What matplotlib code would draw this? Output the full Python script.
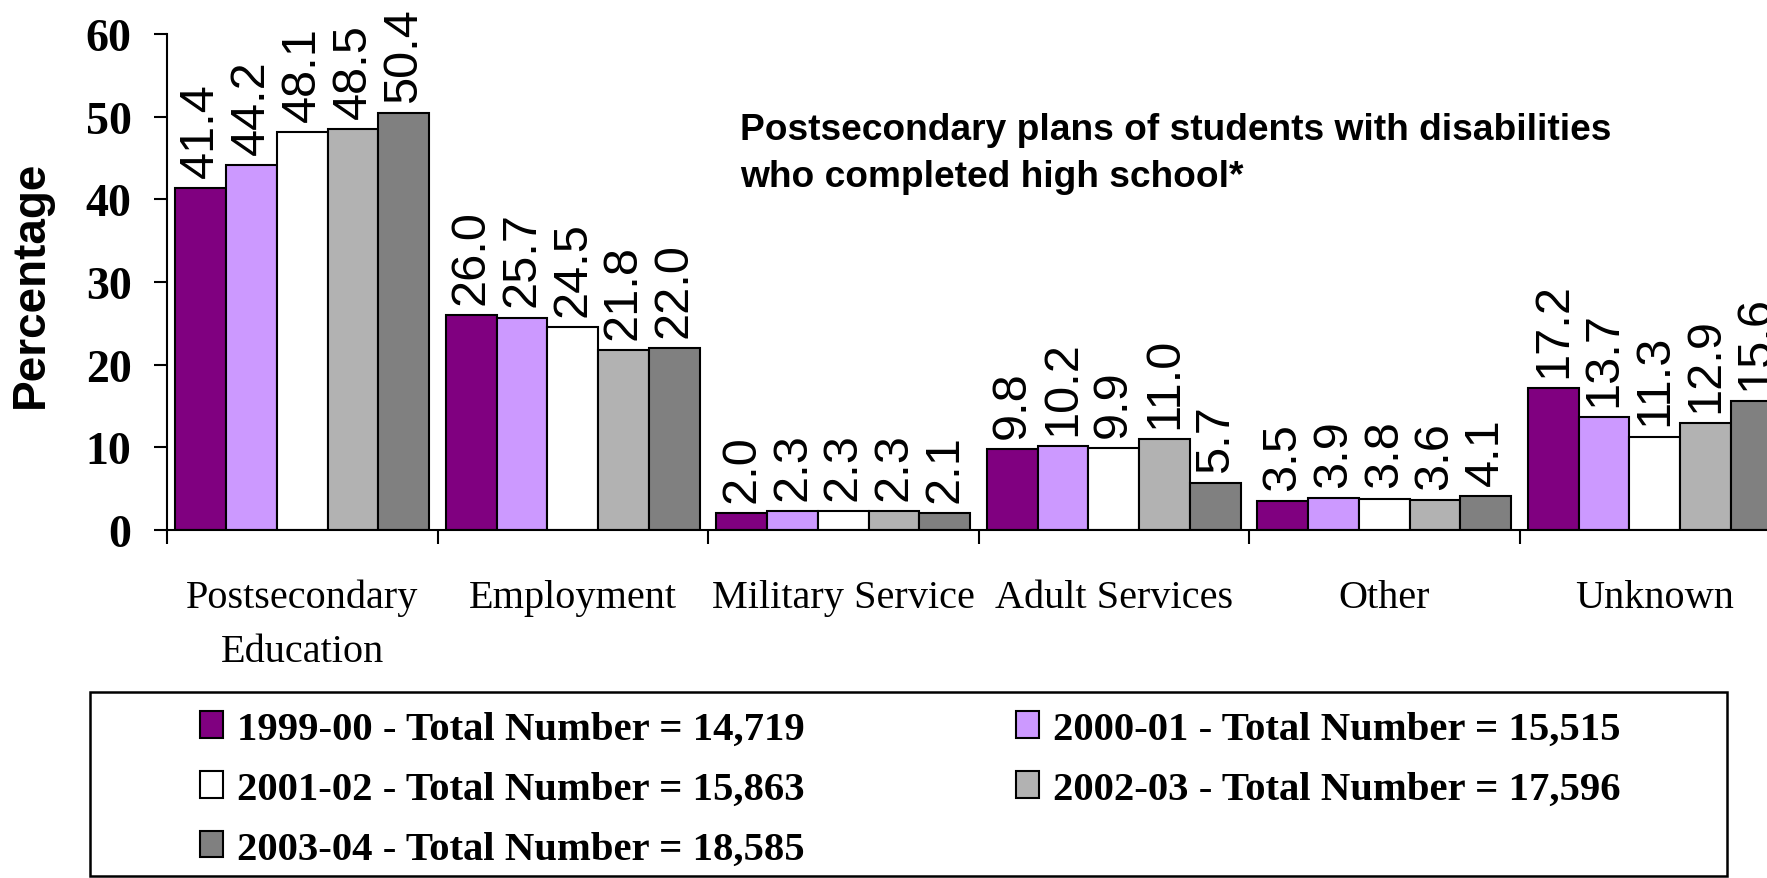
import matplotlib
matplotlib.use("Agg")
import matplotlib.pyplot as plt
from matplotlib.patches import Rectangle
import numpy as np

categories = ["Postsecondary\nEducation", "Employment", "Military Service",
              "Adult Services", "Other", "Unknown"]
series_names = ["1999-00 - Total Number = 14,719",
                "2000-01 - Total Number = 15,515",
                "2001-02 - Total Number = 15,863",
                "2002-03 - Total Number = 17,596",
                "2003-04 - Total Number = 18,585"]
v1999 = [41.4, 26.0, 2.0, 9.8, 3.5, 17.2]
v2000 = [44.2, 25.7, 2.3, 10.2, 3.9, 13.7]
v2001 = [48.1, 24.5, 2.3, 9.9, 3.8, 11.3]
v2002 = [48.5, 21.8, 2.3, 11.0, 3.6, 12.9]
v2003 = [50.4, 22.0, 2.1, 5.7, 4.1, 15.6]
yticks = [0, 10, 20, 30, 40, 50, 60]
title = "Postsecondary plans of students with disabilities\nwho completed high school*"

colors = ["#800080", "#CC99FF", "#FFFFFF", "#B2B2B2", "#808080"]
series = [v1999, v2000, v2001, v2002, v2003]

W, H = 1767, 879
fig = plt.figure(figsize=(W / 100, H / 100), dpi=100)
ax = fig.add_axes([167 / W, 1 - 531 / H, 1623 / W, 496 / H])

x = np.arange(len(categories))
bw = 0.1875
handles = []
for i, (vals, c, name) in enumerate(zip(series, colors, series_names)):
    bars = ax.bar(x + (i - 2) * bw, vals, bw, color=c, edgecolor="black",
                  linewidth=1.5, label=name, zorder=2)
    handles.append(bars)
    for xi, v in zip(x + (i - 2) * bw, vals):
        ax.annotate(f"{v:.1f}", (xi, v), xytext=(0, 8), textcoords="offset points",
                    rotation=90, ha="center", va="bottom", fontsize=35,
                    family="Liberation Sans", clip_on=False)

ax.set_xlim(-0.5, len(categories) - 0.5)
ax.set_ylim(0, 60)
ax.spines["top"].set_visible(False)
ax.spines["right"].set_visible(False)
ax.spines["left"].set_linewidth(1.5)
ax.spines["bottom"].set_linewidth(1.5)

ax.set_yticks(yticks)
ax.set_yticklabels([str(t) for t in yticks], family="Liberation Serif",
                   fontweight="bold", fontsize=33)
ax.tick_params(axis="y", direction="out", length=9.5, width=1.5, pad=16)

ax.set_xticks(np.arange(-0.5, len(categories), 1.0))
ax.set_xticklabels([])
ax.tick_params(axis="x", which="major", direction="out", length=10, width=1.5)
ax.set_xticks(x, minor=True)
ax.set_xticklabels(categories, minor=True, family="Liberation Serif",
                   fontsize=29, linespacing=1.6)
ax.tick_params(axis="x", which="minor", length=0, pad=35)

fig.text(740 / W, 1 - 154 / H, title, ha="left", va="center", fontsize=26.7,
         fontweight="bold", family="Liberation Sans", linespacing=1.45)
fig.text(31 / W, 1 - 284 / H, "Percentage", rotation=90, ha="center", va="center",
         fontsize=33, fontweight="bold", family="Liberation Sans")

fig.patches.append(Rectangle((90 / W, 2 / H), 1637 / W, 184 / H, transform=fig.transFigure,
                             facecolor="white", edgecolor="black", linewidth=1.8, zorder=0))
order = [0, 2, 4, 1, 3]
leg = fig.legend([handles[k] for k in order], [series_names[k] for k in order],
                 ncol=2, loc="upper left", bbox_to_anchor=(200 / W, 1 - 712 / H),
                 frameon=False, borderpad=0, borderaxespad=0,
                 handlelength=0.57, handleheight=0.62, handletextpad=0.35,
                 columnspacing=5.18, labelspacing=0.56,
                 prop={"family": "Liberation Serif", "weight": "bold", "size": 29.3})

fig.savefig("out.png", dpi=100)
